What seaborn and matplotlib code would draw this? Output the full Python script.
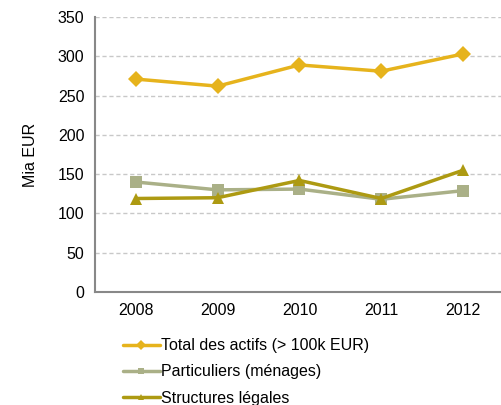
import pandas as pd
import seaborn as sns
import matplotlib.pyplot as plt

years = ["2008", "2009", "2010", "2011", "2012"]
total = [271, 262, 289, 281, 303]
particuliers = [140, 130, 131, 118, 129]
structures = [119, 120, 142, 119, 155]
series_names = ["Total des actifs (> 100k EUR)", "Particuliers (ménages)", "Structures légales"]

df = pd.DataFrame({
    "year": years * 3,
    "pos": list(range(len(years))) * 3,
    "value": total + particuliers + structures,
    "series": [series_names[0]] * 5 + [series_names[1]] * 5 + [series_names[2]] * 5,
})

sns.set_style("white")
plt.rcParams['font.family'] = ['Liberation Sans', 'DejaVu Sans']
plt.rcParams['text.color'] = 'black'
plt.rcParams['xtick.color'] = 'black'
plt.rcParams['ytick.color'] = 'black'
plt.rcParams['axes.labelcolor'] = 'black'

colors = {series_names[0]: "#E6B31C", series_names[1]: "#AAB087", series_names[2]: "#AD9A12"}
markers = {series_names[0]: "D", series_names[1]: "s", series_names[2]: "^"}

fig = plt.figure(figsize=(5.02, 4.05), dpi=100)
ax = fig.add_axes([0.189, 0.279, 0.815, 0.679])

sns.lineplot(data=df, x="pos", y="value", hue="series", style="series",
             palette=colors, markers=markers, dashes=False, linewidth=2.5,
             markersize=8, markeredgewidth=0, ax=ax, legend=False)

fs = 11.5
ax.set_xlim(-0.5, 4.5)
ax.set_ylim(0, 350)
ax.set_yticks(range(0, 351, 50))
ax.set_xticks(range(len(years)))
ax.set_xticklabels(years)
ax.set_xticks([i - 0.5 for i in range(len(years) + 1)], minor=True)
ax.tick_params(axis="x", which="major", length=0, labelsize=fs, pad=8)
ax.tick_params(axis="x", which="minor", length=5, color="#888888", width=1)
ax.tick_params(axis="y", length=4, color="#888888", width=1, labelsize=fs, direction="out")
ax.set_xlabel("")
ax.set_ylabel("Mia EUR", fontsize=fs, labelpad=14)
ax.yaxis.grid(True, linestyle=(0, (3, 2)), color="#C8C8C8", linewidth=1)
ax.set_axisbelow(True)
for side in ["top", "right"]:
    ax.spines[side].set_visible(False)
for side in ["left", "bottom"]:
    ax.spines[side].set_color("#888888")
    ax.spines[side].set_linewidth(1.5)

handles = [plt.Line2D([], [], color=colors[n], marker=markers[n], markersize=5,
                      markeredgewidth=0, linewidth=2.5) for n in series_names]
fig.legend(handles, series_names, loc="upper left", bbox_to_anchor=(0.245, 0.165),
           frameon=False, fontsize=fs, handlelength=2.3, handletextpad=0.1,
           labelspacing=0.7, borderaxespad=0, borderpad=0)

fig.savefig("out.png", dpi=100)
